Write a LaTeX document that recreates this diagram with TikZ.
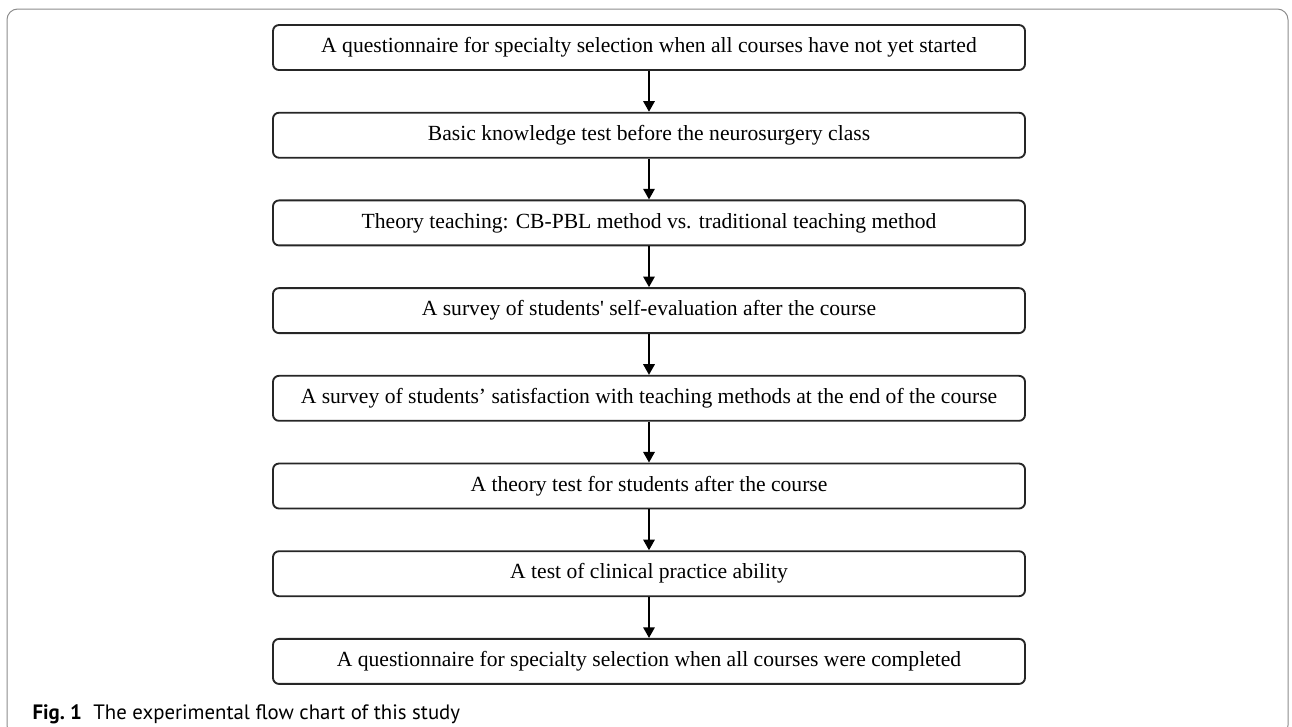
\documentclass[tikz,border=0pt]{standalone}
\usepackage{fontspec}
\setmainfont{Liberation Serif}
\newfontfamily\capfont{PT Sans}
\usetikzlibrary{arrows.meta}

\tikzset{every picture/.style={line width=0.75pt}}
\tikzset{
  stage/.style={draw=black!85, line width=1.4pt, rounded corners=4.5pt,
    minimum width=564pt, minimum height=33.75pt, inner sep=0pt,
    font=\fontsize{16.2}{18}\selectfont},
  flow/.style={draw=black, line width=1.6pt, -{Triangle[length=8pt,width=8.5pt]}},
  frame/.style={draw=black!45, line width=0.75pt, rounded corners=8pt}
}

\begin{document}
\begin{tikzpicture}[x=0.75pt,y=0.75pt,yscale=-1,xscale=1]
\useasboundingbox (0,0) rectangle (1292,726);

%Outer frame (bottom edge runs past the picture)
\begin{scope}
\clip (0,0) rectangle (1292,726);
\draw [frame] (7,9) rectangle (1288,736);
\end{scope}

% Stage boxes
\node [stage] (s1) at (649,47.5) {A questionnaire for specialty selection when all courses have not yet started};
\node [stage] (s2) at (649,135.2) {Basic knowledge test before the neurosurgery class};
\node [stage] (s3) at (649,222.9) {Theory teaching: CB-PBL method vs. traditional teaching method};
\node [stage] (s4) at (649,310.6) {A survey of students\textquotesingle\ self-evaluation after the course};
\node [stage] (s5) at (649,398.3) {A survey of students' satisfaction with teaching methods at the end of the course};
\node [stage] (s6) at (649,486) {A theory test for students after the course};
\node [stage] (s7) at (649,573.7) {A test of clinical practice ability};
\node [stage] (s8) at (649,661.4) {A questionnaire for specialty selection when all courses were completed};

% Arrows
\draw [flow] (s1) -- (s2);
\draw [flow] (s2) -- (s3);
\draw [flow] (s3) -- (s4);
\draw [flow] (s4) -- (s5);
\draw [flow] (s5) -- (s6);
\draw [flow] (s6) -- (s7);
\draw [flow] (s7) -- (s8);

% Caption
\node [anchor=base west, inner sep=0pt, font=\capfont\fontsize{15.6}{17}\selectfont] (cap) at (32,719)
  {\textbf{Fig.\ 1}\hspace{0.55em}The experimental flow chart of this study};

\end{tikzpicture}
\end{document}
